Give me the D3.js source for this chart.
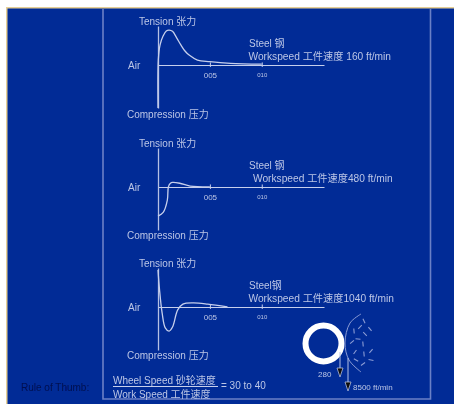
<!DOCTYPE html>
<html>
<head>
<meta charset="utf-8">
<script src="https://cdn.jsdelivr.net/npm/d3@7"></script>
<style>
  html, body { margin: 0; padding: 0; background: #fff; overflow: hidden; }
  text { font-family: "Liberation Sans", "Noto Sans CJK SC", sans-serif; fill: #bcc6e6; }
</style>
</head>
<body>
<svg id="chart" width="454" height="404"></svg>
<script>
// values
var tickValues = [5, 10];
var tickLabels = ["005", "010"];

var time160 = [0, 0.03, 0.2, 0.5, 0.8, 1.07, 1.4, 1.8, 2.2, 2.6, 3.0, 3.8, 5, 7, 10];
var force160 = [-1.05, 0.12, 0.49, 0.71, 0.83, 0.85, 0.82, 0.66, 0.49, 0.34, 0.24, 0.12, 0.08, 0.04, 0.02];

var time480 = [0, 0.5, 0.9, 1.0, 1.2, 1.4, 2.1, 3.1, 5];
var force480 = [-0.71, -0.62, -0.32, 0, 0.09, 0.11, 0.09, 0.02, 0];

var time1040 = [0, 0.15, 0.4, 0.7, 1.07, 1.4, 1.9, 2.4, 3.4, 4.8, 6.7];
var force1040 = [0.9, 0.41, -0.15, -0.51, -0.59, -0.49, -0.07, 0.07, 0.1, 0.07, 0];

var steelLabels = ["Steel 钢", "Steel 钢", "Steel钢"];
var speedLabels = ["Workspeed 工件速度  160 ft/min", "Workspeed 工件速度480 ft/min", "Workspeed 工件速度1040 ft/min"];

var sprayX = [74, 70, 80, 64, 75, 62, 68, 73, 65, 74, 81, 66, 73, 81];
var sprayY = [21, 27, 29, 31, 34, 42, 39, 44, 52, 54, 51, 60, 64, 60];
var sprayTilt = [65, -45, 50, 85, 45, -40, 5, 85, -55, 85, -50, 30, -35, 10];

var panels = [
  { top: 26, time: time160, force: force160 },
  { top: 148, time: time480, force: force480 },
  { top: 268, time: time1040, force: force1040 }
];

var blue = "#012b96", ink = "#c6cfec", frame = "#6b80c6";

var svg = d3.select("#chart");
svg.append("defs").append("filter").attr("id", "soft")
  .append("feGaussianBlur").attr("stdDeviation", 0.3);

// page background, the white band and tan edge of the slide
svg.append("rect").attr("width", 454).attr("height", 404).attr("fill", "#fff");
svg.append("rect").attr("x", 6).attr("y", 7).attr("width", 448).attr("height", 397).attr("fill", "#e6cf95");
svg.append("rect").attr("x", 7.5).attr("y", 8.5).attr("width", 447).attr("height", 396).attr("fill", blue);

var root = svg.append("g").attr("filter", "url(#soft)");

// frame runs up into the tan edge, so only three sides are drawn
root.append("path")
  .attr("d", d3.line()([[103, 9], [103, 399], [430.5, 399], [430.5, 9]]))
  .attr("fill", "none").attr("stroke", frame).attr("stroke-width", 1.6);

var x = d3.scaleLinear().domain([0, 16]).range([158, 324]);
var y = d3.scaleLinear().domain([-1.05, 0.95]).range([82, 0]);
var curve = d3.line().x(function(d) { return x(d[0]); }).y(function(d) { return y(d[1]); }).curve(d3.curveCatmullRom);

panels.forEach(function(p, i) {
  var g = root.append("g").attr("transform", "translate(0," + p.top + ")");
  var zero = y(0);

  var xAxis = g.append("g").attr("transform", "translate(0," + zero + ")")
    .call(d3.axisBottom(x).tickValues(tickValues).tickSizeInner(2).tickSizeOuter(0)
      .tickFormat(function(d, k) { return tickLabels[k]; }));
  xAxis.select(".domain").attr("stroke", ink).attr("stroke-width", 1.1);
  xAxis.selectAll(".tick line").attr("y1", -2.5).attr("stroke", ink);
  xAxis.selectAll(".tick text").attr("y", 7.5)
    .style("font-size", function(d) { return d === 5 ? "8px" : "6px"; })
    .style("font-family", "'Liberation Sans'").style("fill", "#bcc6e6");

  var yAxis = g.append("g").attr("transform", "translate(158,0)")
    .call(d3.axisLeft(y).tickValues([]).tickSize(0));
  yAxis.select(".domain").attr("stroke", "#b5c0e4").attr("stroke-width", 1.3);

  g.append("path")
    .datum(d3.zip(p.time, p.force))
    .attr("d", curve)
    .attr("fill", "none").attr("stroke", ink).attr("stroke-width", 1.3);

  g.append("text").attr("x", 139).attr("y", zero - 40).attr("font-size", 10).text("Tension 张力");
  g.append("text").attr("x", 128).attr("y", zero + 4).attr("font-size", 10).text("Air");
  g.append("text").attr("x", 127).attr("y", zero + (i === 0 ? 53 : 52)).attr("font-size", 10).text("Compression 压力");
  g.append("text").attr("x", 249).attr("y", zero - 18).attr("font-size", 10).text(steelLabels[i]);
  g.append("text").attr("x", i === 1 ? 253 : 248.5).attr("y", zero - 5).attr("font-size", 10.2).text(speedLabels[i]);
});

// wheel, spray and the two speed arrows
var wheel = root.append("g").attr("transform", "translate(290,300)");
wheel.append("circle").attr("cx", 33.5).attr("cy", 43.5).attr("r", 18)
  .attr("fill", "none").attr("stroke", "#fff").attr("stroke-width", 6);
wheel.append("path").attr("d", d3.line().curve(d3.curveCatmullRom)([[71, 14], [60, 23], [55, 43], [59, 60], [71, 72]]))
  .attr("fill", "none").attr("stroke", "#8c9cd4").attr("stroke-width", 1);

wheel.selectAll("line.spray")
  .data(d3.range(sprayX.length))
  .join("line").attr("class", "spray")
  .attr("x1", -2.5).attr("x2", 2.5).attr("y1", 0).attr("y2", 0)
  .attr("transform", function(k) { return "translate(" + sprayX[k] + "," + sprayY[k] + ") rotate(" + sprayTilt[k] + ")"; })
  .attr("stroke", "#8c9cd4").attr("stroke-width", 1.1);

[[50, 52, 68, 77], [58, 58, 82, 91]].forEach(function(a) {
  wheel.append("line").attr("x1", a[0]).attr("x2", a[0]).attr("y1", a[1]).attr("y2", a[2])
    .attr("stroke", "#b5c0e4").attr("stroke-width", 1);
  wheel.append("path").attr("d", "M" + (a[0] - 3) + "," + a[2] + "h6l-3," + (a[3] - a[2]) + "z")
    .attr("fill", "#111").attr("stroke", "#c6cfec").attr("stroke-width", 0.7);
});
wheel.append("text").attr("x", 28).attr("y", 77).attr("font-size", 8).text("280");
wheel.append("text").attr("x", 63).attr("y", 90).attr("font-size", 8).text("8500 ft/min");

// rule of thumb
root.append("text").attr("x", 21).attr("y", 391).attr("font-size", 10)
  .style("fill", "#050f50").text("Rule of Thumb:");
root.append("text").attr("x", 113).attr("y", 384).attr("font-size", 10).text("Wheel Speed 砂轮速度");
root.append("line").attr("x1", 113).attr("x2", 218).attr("y1", 386.5).attr("y2", 386.5)
  .attr("stroke", ink).attr("stroke-width", 1);
root.append("text").attr("x", 113).attr("y", 398).attr("font-size", 10).text("Work Speed 工件速度");
root.append("text").attr("x", 221).attr("y", 389).attr("font-size", 10).text("= 30 to 40");
</script>
</body>
</html>
